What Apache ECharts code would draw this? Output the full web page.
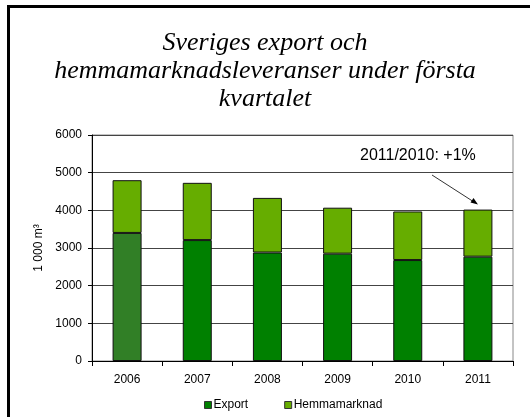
<!DOCTYPE html>
<html>
<head>
<meta charset="utf-8">
<script src="https://cdn.jsdelivr.net/npm/echarts@6/dist/echarts.min.js"></script>
<style>
  html, body { margin: 0; padding: 0; background: #fff; }
  #chart { width: 530px; height: 417px; }
</style>
</head>
<body>
<div id="chart"></div>
<script>
// values in 1 000 m3, first quarter
const years = ['2006', '2007', '2008', '2009', '2010', '2011']
const exportValues = [3400, 3210, 2880, 2850, 2680, 2770]
const homeValues = [1400, 1520, 1450, 1220, 1290, 1250]
const yTicks = [0, 1000, 2000, 3000, 4000, 5000, 6000]

const chart = echarts.init(document.getElementById('chart'), null, { renderer: 'canvas' })

const exportColor = '#008000'
const export2006Color = '#317f26'
const homeColor = '#66ad00'

const option = {
  animation: false,
  backgroundColor: '#fff',
  title: {
    text: 'Sveriges export och\nhemmamarknadsleveranser under första\nkvartalet',
    left: 'center',
    top: 24,
    textStyle: {
      fontFamily: 'Liberation Serif',
      fontStyle: 'italic',
      fontWeight: 'normal',
      fontSize: 26,
      lineHeight: 28,
      color: '#000'
    }
  },
  grid: {
    left: 92,
    right: 17,
    top: 135,
    bottom: 56,
    show: true,
    borderColor: '#888',
    borderWidth: 1,
    backgroundColor: 'transparent'
  },
  legend: {
    top: 394,
    left: 199,
    itemWidth: 7,
    itemHeight: 7,
    itemGap: 36,
    icon: 'rect',
    textStyle: { fontFamily: 'Liberation Sans', fontSize: 12, color: '#000', padding: [0, 0, 0, -3] },
    data: [
      { name: 'Export', itemStyle: { color: exportColor, borderColor: '#333', borderWidth: 1 } },
      { name: 'Hemmamarknad', itemStyle: { color: homeColor, borderColor: '#333', borderWidth: 1 } }
    ]
  },
  xAxis: {
    type: 'category',
    data: years,
    axisLine: { lineStyle: { color: '#000', width: 1 } },
    axisTick: { show: true, alignWithLabel: false, length: 5, lineStyle: { color: '#000' } },
    axisLabel: { fontFamily: 'Liberation Sans', fontSize: 12, color: '#000', margin: 13 }
  },
  yAxis: {
    type: 'value',
    min: yTicks[0],
    max: yTicks[yTicks.length - 1],
    interval: 1000,
    name: '1 000 m³',
    nameLocation: 'middle',
    nameGap: 43,
    nameRotate: 90,
    nameTextStyle: { fontFamily: 'Liberation Sans', fontSize: 12, color: '#000' },
    axisLine: { show: true, lineStyle: { color: '#000', width: 1 } },
    axisTick: { show: true, length: 4, lineStyle: { color: '#000' } },
    axisLabel: {
      fontFamily: 'Liberation Sans', fontSize: 12, color: '#000', margin: 10,
      formatter: v => String(v)
    },
    splitLine: { show: true, lineStyle: { color: '#444', width: 1 } }
  },
  series: [
    {
      name: 'Export',
      type: 'bar',
      stack: 'total',
      barWidth: 29,
      data: exportValues.map((v, i) => ({
        value: v,
        itemStyle: { color: i === 0 ? export2006Color : exportColor }
      })),
      itemStyle: { color: exportColor, borderColor: '#111', borderWidth: 1 }
    },
    {
      name: 'Hemmamarknad',
      type: 'bar',
      stack: 'total',
      barWidth: 29,
      data: homeValues,
      itemStyle: { color: homeColor, borderColor: '#111', borderWidth: 1 }
    }
  ],
  graphic: [
    {
      type: 'rect',
      shape: { x: 8.5, y: 6.5, width: 600, height: 600 },
      style: { fill: 'none', stroke: '#000', lineWidth: 3 },
      z: 100
    },
    {
      type: 'text',
      left: 360,
      top: 148,
      style: { text: '2011/2010: +1%', fontFamily: 'Liberation Sans', fontSize: 16, fill: '#000' }
    },
    {
      type: 'line',
      shape: { x1: 432, y1: 175, x2: 474, y2: 202 },
      style: { stroke: '#333', lineWidth: 1 }
    },
    {
      type: 'polygon',
      shape: { points: [[478, 204.5], [470.5, 202.5], [473.5, 198] ] },
      style: { fill: '#000' }
    }
  ]
}

chart.setOption(option)
</script>
</body>
</html>
